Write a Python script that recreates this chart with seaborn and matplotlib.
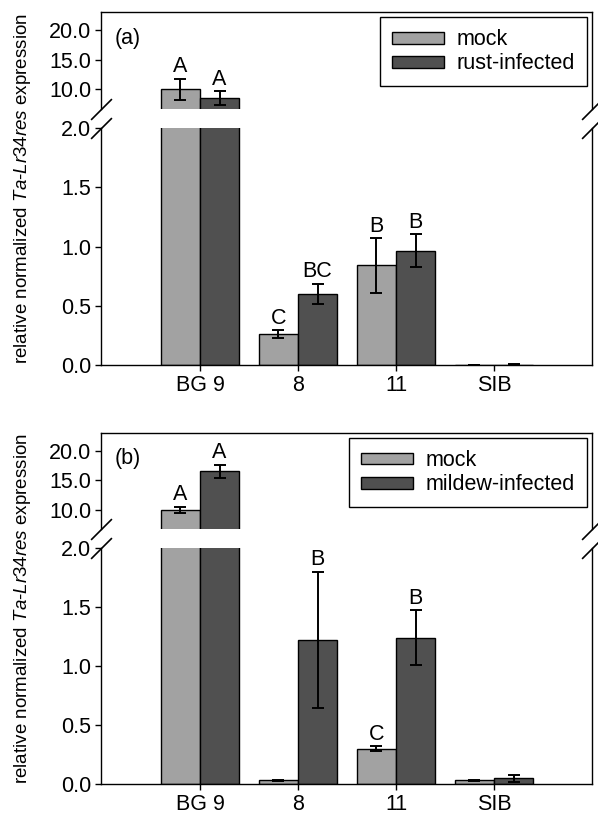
import pandas as pd
import matplotlib.pyplot as plt
import seaborn as sns

genotypes = ["BG 9", "8", "11", "SIB"]

# panel (a): leaf rust
rust_mock = [10.0, 0.26, 0.84, 0.003]
rust_mock_err = [1.8, 0.035, 0.23, 0.001]
rust_inf = [8.5, 0.60, 0.965, 0.004]
rust_inf_err = [1.2, 0.085, 0.14, 0.001]
rust_mock_letters = ["A", "C", "B", ""]
rust_inf_letters = ["A", "BC", "B", ""]

# panel (b): powdery mildew
mildew_mock = [10.0, 0.03, 0.30, 0.03]
mildew_mock_err = [0.5, 0.005, 0.02, 0.005]
mildew_inf = [16.5, 1.22, 1.24, 0.05]
mildew_inf_err = [1.1, 0.58, 0.235, 0.03]
mildew_mock_letters = ["A", "", "C", ""]
mildew_inf_letters = ["A", "B", "B", ""]

MOCK_COLOR = "#a2a2a2"
INF_COLOR = "#505050"
FS = 15.5

sns.set_style("ticks")
plt.rcParams["font.family"] = ["Liberation Sans", "DejaVu Sans"]
plt.rcParams["mathtext.fontset"] = "custom"
plt.rcParams["mathtext.rm"] = "Liberation Sans"
plt.rcParams["mathtext.it"] = "Liberation Sans:italic"
plt.rcParams["axes.linewidth"] = 1.0
for key in ["text.color", "axes.labelcolor", "xtick.color", "ytick.color",
            "axes.edgecolor"]:
    plt.rcParams[key] = "black"


def draw_panel(fig, top_rect, bot_rect, tag, inf_name, mock, mock_err, inf, inf_err,
               mock_letters, inf_letters, ylabel_y):
    df = pd.DataFrame({
        "genotype": genotypes * 2,
        "treatment": ["mock"] * 4 + [inf_name] * 4,
        "value": mock + inf,
    })
    errs = {"mock": mock_err, inf_name: inf_err}
    vals = {"mock": mock, inf_name: inf}
    lets = {"mock": mock_letters, inf_name: inf_letters}
    levels = ["mock", inf_name]

    ax_top = fig.add_axes(top_rect)
    ax_bot = fig.add_axes(bot_rect)

    for ax, show_leg in [(ax_top, True), (ax_bot, False)]:
        sns.barplot(data=df, x="genotype", y="value", hue="treatment",
                    hue_order=levels, order=genotypes,
                    palette=[MOCK_COLOR, INF_COLOR], edgecolor="black",
                    linewidth=1.0, width=0.8, errorbar=None, ax=ax,
                    legend=show_leg)
        for cont, lev in zip(ax.containers, levels):
            for i, bar in enumerate(cont):
                xc = bar.get_x() + bar.get_width() / 2
                ax.errorbar(xc, vals[lev][i], yerr=errs[lev][i], fmt="none",
                            ecolor="black", elinewidth=1.4, capsize=4.5,
                            capthick=1.4)
                top = vals[lev][i] + errs[lev][i]
                in_top = vals[lev][i] > 2
                if lets[lev][i] and (in_top == (ax is ax_top)):
                    ax.annotate(lets[lev][i], (xc, top), xytext=(0, 1),
                                textcoords="offset points", ha="center",
                                va="bottom", fontsize=FS)
        ax.set_xlim(-1.01, 4.0)
        ax.set_xlabel("")
        ax.set_ylabel("")
        ax.tick_params(labelsize=FS, length=4, width=1, direction="out",
                       pad=3)

    ax_top.set_ylim(6.7, 23.0)
    ax_top.set_yticks([10, 15, 20])
    ax_top.set_yticklabels(["10.0", "15.0", "20.0"])
    ax_top.spines["bottom"].set_visible(False)
    ax_top.tick_params(axis="x", bottom=False, labelbottom=False)

    ax_bot.set_ylim(0, 2.0)
    ax_bot.set_yticks([0, 0.5, 1.0, 1.5, 2.0])
    ax_bot.set_yticklabels(["0.0", "0.5", "1.0", "1.5", "2.0"])
    ax_bot.spines["top"].set_visible(False)

    for ax in (ax_top, ax_bot):
        ax.spines["right"].set_visible(True)
        ax.spines["top" if ax is ax_top else "bottom"].set_visible(True)

    # break marks on both sides
    kw = dict(marker=[(-1, -1), (1, 1)], markersize=15, linestyle="none",
              color="black", mec="black", mew=1.2, clip_on=False)
    ax_top.plot([0, 1], [0, 0], transform=ax_top.transAxes, **kw)
    ax_bot.plot([0, 1], [1, 1], transform=ax_bot.transAxes, **kw)

    leg = ax_top.legend(loc="upper right", fontsize=FS, frameon=True,
                        fancybox=False, edgecolor="black", framealpha=1,
                        handlelength=2.4, handleheight=0.47,
                        borderaxespad=0.25, labelspacing=0.15,
                        handletextpad=0.6, borderpad=0.55)
    leg.get_frame().set_linewidth(1.0)

    ax_top.text(0.027, 0.73, tag, transform=ax_top.transAxes, fontsize=FS,
                ha="left", va="center")

    fig.text(0.037, ylabel_y,
             r"relative normalized $\it{Ta}$-$\it{Lr34res}$ expression",
             rotation=90, ha="center", va="center", fontsize=13.5)


fig = plt.figure(figsize=(5.98, 8.18), dpi=100)
L, W = 0.1689, 0.8211
draw_panel(fig, [L, 0.8667, W, 0.1186], [L, 0.5538, W, 0.2897], "(a)",
           "rust-infected", rust_mock, rust_mock_err, rust_inf, rust_inf_err,
           rust_mock_letters, rust_inf_letters, 0.7696)
draw_panel(fig, [L, 0.3533, W, 0.1174], [L, 0.0416, W, 0.2885], "(b)",
           "mildew-infected", mildew_mock, mildew_mock_err, mildew_inf,
           mildew_inf_err, mildew_mock_letters, mildew_inf_letters, 0.256)

fig.savefig("out.png", dpi=100)
